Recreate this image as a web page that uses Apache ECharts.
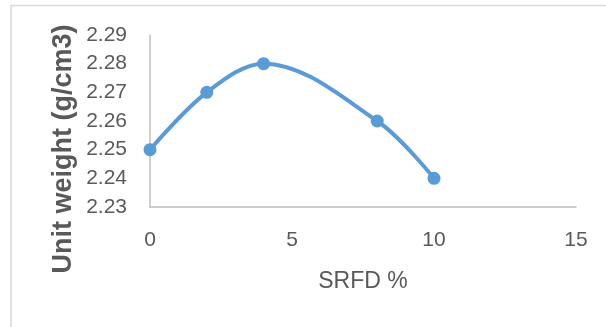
<!DOCTYPE html>
<html>
<head>
<meta charset="utf-8">
<script src="https://cdn.jsdelivr.net/npm/echarts@6/dist/echarts.min.js"></script>
<style>
  html, body { margin: 0; padding: 0; background: #fff; }
  #chart { width: 606px; height: 327px; }
</style>
</head>
<body>
<div id="chart"></div>
<script>
// SRFD content (%) against measured unit weight (g/cm3)
const srfdPercent = [0, 2, 4, 8, 10];
const unitWeight = [2.25, 2.27, 2.28, 2.26, 2.24];
const xTicks = { min: 0, max: 15, step: 5 };
const yTicks = { min: 2.23, max: 2.29, step: 0.01 };
const xTitle = 'SRFD %';
const yTitle = 'Unit weight (g/cm3)';

const textGray = '#595959';
const axisGray = '#BFBFBF';
const lineBlue = '#5B9BD5';
const fontFamily = '"Liberation Sans", Arial, sans-serif';

const chart = echarts.init(document.getElementById('chart'), null, { renderer: 'canvas' });

chart.setOption({
  animation: false,
  backgroundColor: '#ffffff',
  grid: { left: 150, right: 30, top: 35, bottom: 120, containLabel: false },
  graphic: [
    {
      type: 'rect',
      shape: { x: 11, y: 5.5, width: 620, height: 340 },
      style: { fill: 'none', stroke: '#D9D9D9', lineWidth: 1.5 },
      silent: true
    },
    {
      type: 'text',
      x: 64,
      y: 149,
      rotation: Math.PI / 2,
      style: {
        text: yTitle,
        fill: textGray,
        font: 'bold 27px ' + fontFamily,
        align: 'center',
        verticalAlign: 'middle'
      }
    }
  ],
  xAxis: {
    type: 'value',
    min: xTicks.min,
    max: xTicks.max,
    interval: xTicks.step,
    name: xTitle,
    nameLocation: 'middle',
    nameGap: 63,
    nameTextStyle: { color: textGray, fontSize: 23, fontFamily: fontFamily, lineHeight: 23 },
    axisLine: { show: true, lineStyle: { color: axisGray, width: 1.5 } },
    axisTick: { show: false },
    splitLine: { show: false },
    axisLabel: { color: textGray, fontSize: 21, fontFamily: fontFamily, lineHeight: 21, margin: 23 }
  },
  yAxis: {
    type: 'value',
    min: yTicks.min,
    max: yTicks.max,
    interval: yTicks.step,
    axisLine: { show: true, lineStyle: { color: axisGray, width: 1.5 } },
    axisTick: { show: false },
    splitLine: { show: false },
    axisLabel: {
      color: textGray,
      fontSize: 21,
      fontFamily: fontFamily,
      margin: 23,
      formatter: v => v.toFixed(2)
    }
  },
  series: [
    {
      type: 'line',
      data: srfdPercent.map((x, i) => [x, unitWeight[i]]),
      smooth: 0.35,
      symbol: 'circle',
      symbolSize: 13,
      lineStyle: { color: lineBlue, width: 4 },
      itemStyle: { color: lineBlue },
      z: 3
    }
  ]
});
</script>
</body>
</html>
